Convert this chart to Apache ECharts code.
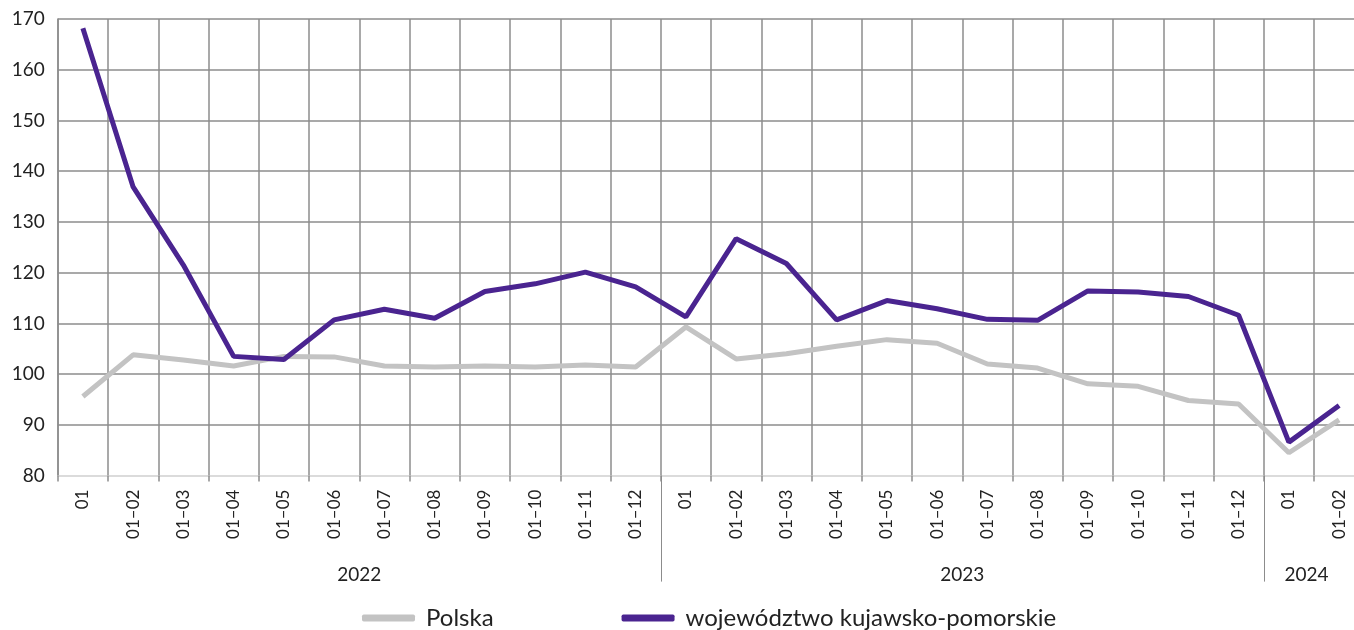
<!DOCTYPE html>
<html>
<head>
<meta charset="utf-8">
<script src="https://cdn.jsdelivr.net/npm/echarts@6/dist/echarts.min.js"></script>
<style>
html,body{margin:0;padding:0;background:#fff;}
#chart{width:1354px;height:630px;}
</style>
</head>
<body>
<div id="chart"></div>
<script>
const categories = [
  '01','01–02','01–03','01–04','01–05','01–06','01–07','01–08','01–09','01–10','01–11','01–12',
  '01','01–02','01–03','01–04','01–05','01–06','01–07','01–08','01–09','01–10','01–11','01–12',
  '01','01–02'
];
const polska = [
  95.6,103.8,102.8,101.6,103.5,103.4,101.6,101.4,101.6,101.4,101.8,101.4,
  109.3,103.0,104.0,105.5,106.8,106.1,102.0,101.2,98.1,97.6,94.8,94.1,
  84.5,91.0
];
const kujPom = [
  168.2,136.9,121.5,103.5,102.9,110.7,112.8,111.0,116.3,117.8,120.1,117.2,
  111.3,126.7,121.8,110.7,114.5,112.9,110.8,110.6,116.4,116.2,115.3,111.6,
  86.6,93.8
];
const seriesNames = ['Polska','województwo kujawsko-pomorskie'];
const yTicks = { min: 80, max: 170, interval: 10 };
const yearLabels = ['2022','2023','2024'];
const yearLabelPos = [6, 18, 24.85];
const yearBoundaries = [12, 24];

const FONT = 'Lato, "Noto Sans", sans-serif';
const chart = echarts.init(document.getElementById('chart'), null, {renderer:'canvas'});
chart.setOption({
  animation: false,
  backgroundColor: '#ffffff',
  grid: { left: 57.75, width: 1306.5, top: 19, height: 456.6, containLabel: false, outerBoundsMode: 'none' },
  legend: {
    left: 357, top: 601,
    itemWidth: 53, itemHeight: 7, itemGap: 128,
    icon: 'roundRect',
    textStyle: { fontFamily: FONT, fontSize: 24, color: '#222', padding: [0,0,0,6] },
    data: seriesNames
  },
  xAxis: [{
    type: 'category',
    data: categories,
    boundaryGap: true,
    axisLine: { show: true, lineStyle: { color: '#cfcfcf', width: 1.5 } },
    axisTick: { show: true, length: 6, lineStyle: { color: '#8c8c8c', width: 1.5 } },
    splitLine: { show: true, lineStyle: { color: '#8c8c8c', width: 1.5 } },
    axisLabel: { rotate: 90, margin: 14, fontFamily: FONT, fontSize: 17, color: '#222', interval: 0 }
  }, {
    type: 'value',
    position: 'bottom',
    min: 0, max: 26,
    axisLine: { show: false },
    splitLine: { show: false },
    axisTick: { show: true, customValues: yearBoundaries, length: 106, lineStyle: { color: '#8c8c8c', width: 1 } },
    axisLabel: {
      show: true, customValues: yearLabelPos, margin: 90,
      fontFamily: FONT, fontSize: 19, color: '#222',
      formatter: function (v) {
        const i = yearLabelPos.indexOf(v);
        return i >= 0 ? yearLabels[i] : '';
      }
    }
  }],
  yAxis: {
    type: 'value',
    min: yTicks.min, max: yTicks.max, interval: yTicks.interval,
    axisLine: { show: true, lineStyle: { color: '#8c8c8c', width: 1.5 } },
    axisTick: { show: false },
    splitLine: { show: true, showMinLine: false, lineStyle: { color: '#8c8c8c', width: 1.5 } },
    axisLabel: { margin: 13, fontFamily: FONT, fontSize: 19, color: '#222' }
  },
  series: [{
    name: seriesNames[0], type: 'line', data: polska,
    symbol: 'none', lineStyle: { color: '#c3c3c3', width: 5 },
    itemStyle: { color: '#c3c3c3' }, z: 2
  }, {
    name: seriesNames[1], type: 'line', data: kujPom,
    symbol: 'none', lineStyle: { color: '#4a2490', width: 5 },
    itemStyle: { color: '#4a2490' }, z: 3
  }]
});
</script>
</body>
</html>
